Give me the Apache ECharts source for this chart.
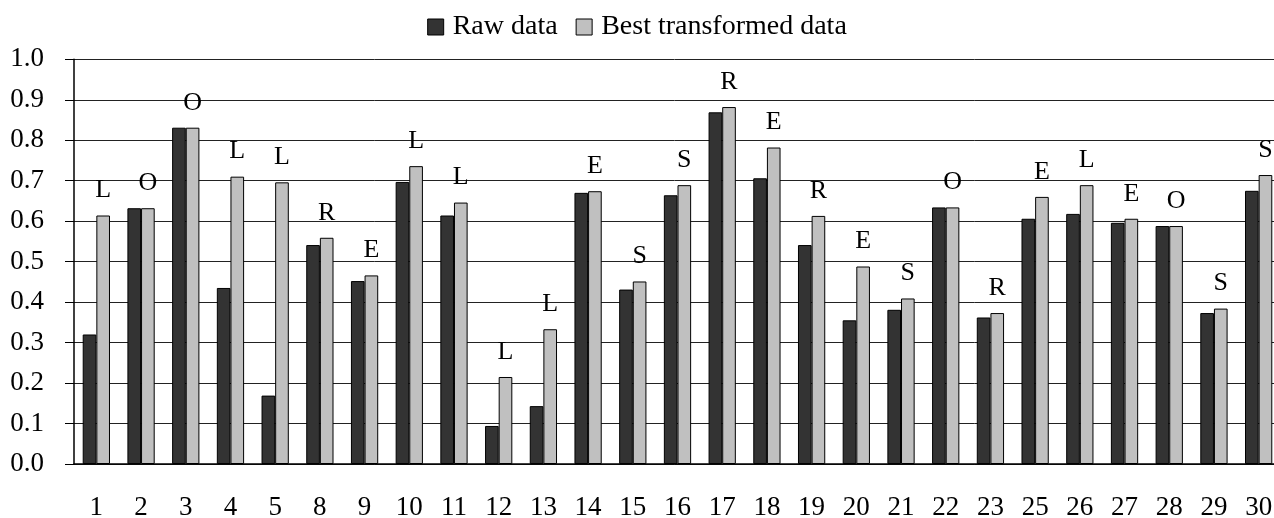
<!DOCTYPE html>
<html>
<head>
<meta charset="utf-8">
<script src="https://cdn.jsdelivr.net/npm/echarts@6/dist/echarts.min.js"></script>
<style>html,body{margin:0;padding:0;background:#fff;}#c{width:1274px;height:518px;}</style>
</head>
<body>
<div id="c"></div>
<script>
var categories = ['1','2','3','4','5','8','9','10','11','12','13','14','15','16','17','18','19','20','21','22','23','25','26','27','28','29','30'];
var rawData = [0.320,0.632,0.831,0.435,0.169,0.541,0.452,0.697,0.614,0.094,0.143,0.670,0.431,0.664,0.869,0.706,0.541,0.355,0.381,0.634,0.362,0.606,0.618,0.596,0.588,0.373,0.675];
var bestData = [0.614,0.632,0.831,0.710,0.696,0.559,0.466,0.736,0.646,0.215,0.333,0.674,0.451,0.689,0.882,0.782,0.613,0.488,0.409,0.634,0.373,0.660,0.689,0.606,0.588,0.384,0.714];
var transformLabels = ['L','O','O','L','L','R','E','L','L','L','L','E','S','S','R','E','R','E','S','O','R','E','L','E','O','S','S'];
var yTicks = [0,0.1,0.2,0.3,0.4,0.5,0.6,0.7,0.8,0.9,1.0];

var FONT = "'Liberation Serif', 'Times New Roman', serif";
var chart = echarts.init(document.getElementById('c'), null, {renderer:'canvas'});
chart.setOption({
  animation: false,
  backgroundColor: '#ffffff',
  textStyle: {fontFamily: FONT, color: '#000'},
  legend: {
    top: 8, left: 'center',
    itemWidth: 16, itemHeight: 16, itemGap: 18,
    textStyle: {fontFamily: FONT, fontSize: 28, color: '#000', padding: [0,0,0,4]},
    data: [
      {name: 'Raw data', icon: 'rect', itemStyle: {color: '#333333', borderColor: '#000', borderWidth: 1}},
      {name: 'Best transformed data', icon: 'rect', itemStyle: {color: '#c0c0c0', borderColor: '#000', borderWidth: 1}}
    ]
  },
  grid: {left: 74, top: 59.3, width: 1207, height: 404.7, outerBoundsMode: 'none', containLabel: false},
  xAxis: {
    type: 'category', data: categories,
    axisLine: {lineStyle: {color: '#000', width: 1.5}},
    axisTick: {inside: true, length: 9, lineStyle: {color: '#000', width: 1}},
    axisLabel: {fontFamily: FONT, fontSize: 27, color: '#000', margin: 30}
  },
  yAxis: {
    type: 'value', min: 0, max: 1, interval: 0.1,
    axisLine: {show: true, lineStyle: {color: '#000', width: 1.5}},
    axisTick: {show: true, length: 9, lineStyle: {color: '#000'}},
    splitLine: {show: true, lineStyle: {color: '#222', width: 1}},
    axisLabel: {fontFamily: FONT, fontSize: 27, color: '#000', margin: 30,
      formatter: function (v) { return v.toFixed(1); }}
  },
  series: [
    {name: 'Raw data', type: 'bar', data: rawData, barGap: '0%', barCategoryGap: '39%',
      itemStyle: {color: '#333333', borderColor: '#000', borderWidth: 1}},
    {name: 'Best transformed data', type: 'bar', data: bestData, barGap: '0%', barCategoryGap: '39%',
      itemStyle: {color: '#c0c0c0', borderColor: '#000', borderWidth: 1},
      label: {show: true, position: 'top', distance: 12, fontFamily: FONT, fontSize: 26, color: '#000',
        formatter: function (p) { return transformLabels[p.dataIndex]; }}}
  ]
});
</script>
</body>
</html>
